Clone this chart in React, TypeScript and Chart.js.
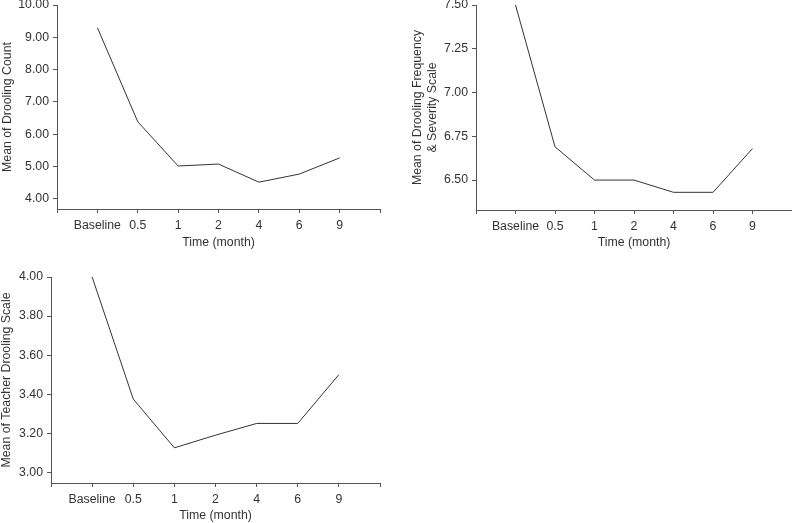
import React, { useEffect, useRef } from "react";
import { Chart, registerables } from "chart.js";

Chart.register(...registerables);

const categories = ["Baseline", "0.5", "1", "2", "4", "6", "9"];

const droolingCount = [9.3, 6.39, 5.02, 5.08, 4.52, 4.77, 5.27];
const droolingFreqSeverity = [7.5, 6.69, 6.5, 6.5, 6.43, 6.43, 6.68];
const teacherDrooling = [4.0, 3.375, 3.125, 3.19, 3.25, 3.25, 3.5];

const yTicks1 = [4, 5, 6, 7, 8, 9, 10];
const yTicks2 = [6.5, 6.75, 7.0, 7.25, 7.5];
const yTicks3 = [3.0, 3.2, 3.4, 3.6, 3.8, 4.0];

const xTitle = "Time (month)";
const yTitle1 = "Mean of Drooling Count";
const yTitle2 = ["Mean of Drooling Frequency", "& Severity Scale"];
const yTitle3 = "Mean of Teacher Drooling Scale";

const FONT = { family: "'Liberation Sans', Arial, sans-serif", size: 12.3, lineHeight: 1.2 };
const TEXT = "#333333";
const AXIS = "#555555";
const LINE = "#333333";

type PanelProps = {
  left: number;
  top: number;
  width: number;
  height: number;
  values: number[];
  yTicks: number[];
  yMin: number;
  yMax: number;
  yTitle: string | string[];
  yWidth: number;
  xHeight: number;
  padTop: number;
  padRight: number;
  yTitlePadTop: number;
};

function Panel(p: PanelProps) {
  const ref = useRef<HTMLCanvasElement | null>(null);
  useEffect(() => {
    if (!ref.current) return;
    const chart = new Chart(ref.current, {
      type: "line",
      data: {
        datasets: [
          {
            data: p.values.map((v, i) => ({ x: i + 1, y: v })),
            borderColor: LINE,
            borderWidth: 1,
            pointRadius: 0,
            tension: 0,
            fill: false,
          },
        ],
      },
      options: {
        animation: false,
        responsive: false,
        devicePixelRatio: 1,
        layout: { padding: { left: 0, top: p.padTop, right: p.padRight, bottom: 0 } },
        plugins: { legend: { display: false }, tooltip: { enabled: false } },
        scales: {
          x: {
            type: "linear",
            min: 0,
            max: categories.length + 1,
            grid: { display: true, drawOnChartArea: false, drawTicks: true, tickLength: 4, color: AXIS },
            border: { display: true, color: AXIS, width: 1 },
            ticks: {
              color: TEXT,
              font: FONT,
              autoSkip: false,
              maxRotation: 0,
              padding: 5,
              callback: (v: any) => categories[Number(v) - 1] ?? "",
            },
            afterBuildTicks: (s: any) => {
              const t = [];
              for (let i = 0; i <= categories.length + 1; i++) t.push({ value: i });
              s.ticks = t;
            },
            afterFit: (s: any) => {
              s.height = p.xHeight;
              s.paddingLeft = 0;
              s.paddingRight = 0;
            },
            title: {
              display: true,
              text: xTitle,
              color: TEXT,
              font: FONT,
              padding: { top: 0, bottom: 0 },
            },
          },
          y: {
            type: "linear",
            min: p.yMin,
            max: p.yMax,
            grid: { display: true, drawOnChartArea: false, drawTicks: true, tickLength: 4, color: AXIS },
            border: { display: true, color: AXIS, width: 1 },
            ticks: {
              color: TEXT,
              font: FONT,
              padding: 4,
              callback: (v: any) => Number(v).toFixed(2),
            },
            afterBuildTicks: (s: any) => {
              s.ticks = p.yTicks.map((v) => ({ value: v }));
            },
            afterFit: (s: any) => {
              s.width = p.yWidth;
              s.paddingTop = 0;
              s.paddingBottom = 0;
            },
            title: {
              display: true,
              text: p.yTitle as any,
              color: TEXT,
              font: { ...FONT, lineHeight: 1.15 },
              padding: { top: p.yTitlePadTop, bottom: 0 },
            },
          },
        },
      },
    } as any);
    return () => chart.destroy();
  }, []);
  return (
    <div style={{ position: "absolute", left: p.left, top: p.top, width: p.width, height: p.height }}>
      <canvas ref={ref} width={p.width} height={p.height} style={{ width: p.width, height: p.height, display: "block" }} />
    </div>
  );
}

export default function App() {
  return (
    <div style={{ position: "absolute", left: 0, top: 0, width: 792, height: 523, background: "#fff", overflow: "hidden" }}>
      <Panel
        left={0}
        top={0}
        width={392}
        height={250}
        values={droolingCount}
        yTicks={yTicks1}
        yMin={3.69}
        yMax={10}
        yTitle={yTitle1}
        yWidth={57}
        xHeight={41}
        padTop={5}
        padRight={12}
        yTitlePadTop={1}
      />
      <Panel
        left={396}
        top={0}
        width={396}
        height={250}
        values={droolingFreqSeverity}
        yTicks={yTicks2}
        yMin={6.329}
        yMax={7.5}
        yTitle={yTitle2}
        yWidth={80}
        xHeight={40}
        padTop={5}
        padRight={0}
        yTitlePadTop={15}
      />
      <Panel
        left={0}
        top={262}
        width={392}
        height={261}
        values={teacherDrooling}
        yTicks={yTicks3}
        yMin={2.945}
        yMax={4}
        yTitle={yTitle3}
        yWidth={51}
        xHeight={40}
        padTop={15}
        padRight={12}
        yTitlePadTop={0}
      />
    </div>
  );
}
